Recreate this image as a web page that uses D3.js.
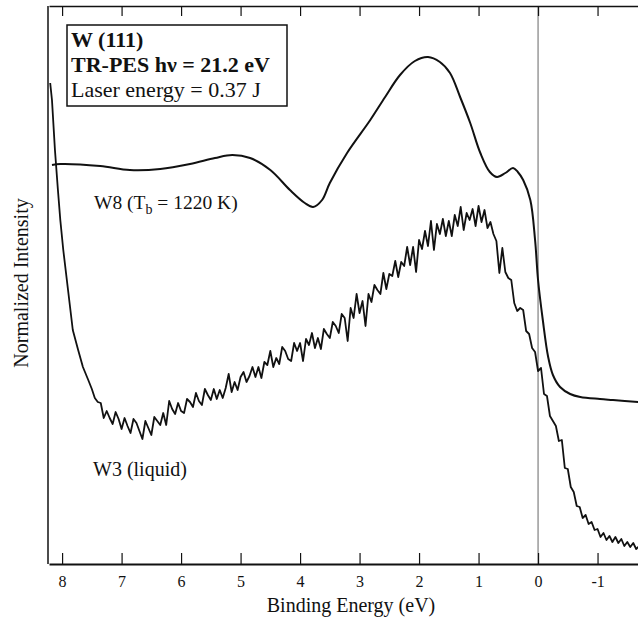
<!DOCTYPE html>
<html>
<head>
<meta charset="utf-8">
<script src="https://cdn.jsdelivr.net/npm/d3@7"></script>
<style>
  body { margin: 0; background: #fff; }
  text { font-family: "Liberation Serif", "Times New Roman", serif; fill: #111; }
</style>
</head>
<body>
<div id="chart"></div>
<script>
// binding energy ticks (eV)
const energyTicks = [8, 7, 6, 5, 4, 3, 2, 1, 0, -1];

// W8 (solid, Tb = 1220 K) - smooth spectrum, [eV, intensity a.u.]
const w8Spectrum = [
  [8.17, 399], [8.03, 400], [7.36, 398], [6.86, 394], [6.35, 395], [5.85, 400],
  [5.43, 406], [5.14, 409], [4.84, 406], [4.50, 394], [4.17, 374], [3.92, 361],
  [3.78, 357], [3.63, 364], [3.50, 381], [3.21, 411], [2.82, 444], [2.57, 467],
  [2.32, 489], [2.07, 503], [1.85, 507], [1.65, 502], [1.48, 491], [1.31, 467],
  [1.14, 441], [0.97, 411], [0.81, 392], [0.69, 387], [0.55, 391], [0.42, 396],
  [0.34, 392], [0.25, 384], [0.13, 364], [0.05, 324], [0.00, 284], [-0.08, 244],
  [-0.17, 207], [-0.25, 189], [-0.37, 177], [-0.54, 170], [-0.71, 167],
  [-1.04, 165], [-1.26, 164], [-1.70, 162]
];

// W3 (liquid) - noisy spectrum, [eV, intensity a.u.]
const w3Spectrum = [
  [8.20, 481], [8.17, 464], [8.12, 414], [8.07, 374], [8.03, 344], [7.98, 314],
  [7.90, 274], [7.82, 234], [7.73, 214], [7.65, 197], [7.56, 184], [7.50, 175],
  [7.45, 166], [7.40, 162], [7.35, 161], [7.30, 146], [7.25, 153], [7.20, 146],
  [7.15, 140], [7.10, 152], [7.05, 145], [7.00, 135], [6.95, 146], [6.90, 138],
  [6.85, 131], [6.80, 145], [6.75, 141], [6.70, 133], [6.65, 125], [6.60, 143],
  [6.55, 136], [6.50, 129], [6.45, 147], [6.40, 143], [6.35, 139], [6.30, 151],
  [6.25, 139], [6.20, 163], [6.15, 155], [6.10, 150], [6.05, 161], [6.00, 153],
  [5.95, 151], [5.90, 165], [5.85, 162], [5.80, 157], [5.75, 171], [5.70, 163],
  [5.65, 159], [5.60, 175], [5.55, 169], [5.50, 164], [5.45, 175], [5.40, 165],
  [5.35, 174], [5.30, 166], [5.25, 176], [5.20, 190], [5.15, 172], [5.10, 182],
  [5.05, 174], [5.00, 187], [4.95, 192], [4.90, 182], [4.85, 188], [4.80, 197],
  [4.75, 187], [4.70, 197], [4.65, 186], [4.60, 202], [4.55, 199], [4.50, 213],
  [4.45, 197], [4.40, 206], [4.35, 200], [4.30, 217], [4.25, 213], [4.20, 205],
  [4.15, 203], [4.10, 221], [4.05, 213], [4.00, 221], [3.95, 203], [3.90, 225],
  [3.85, 219], [3.80, 231], [3.75, 216], [3.70, 226], [3.65, 215], [3.60, 235],
  [3.55, 230], [3.50, 226], [3.45, 242], [3.40, 238], [3.35, 231], [3.30, 250],
  [3.25, 246], [3.20, 223], [3.15, 256], [3.10, 246], [3.05, 270], [3.00, 251],
  [2.95, 263], [2.90, 238], [2.85, 270], [2.80, 262], [2.75, 279], [2.70, 274],
  [2.65, 270], [2.60, 291], [2.55, 275], [2.50, 290], [2.45, 288], [2.40, 303],
  [2.35, 287], [2.30, 302], [2.25, 298], [2.20, 317], [2.15, 299], [2.10, 317],
  [2.05, 292], [2.00, 324], [1.95, 315], [1.90, 333], [1.85, 318], [1.80, 343],
  [1.75, 314], [1.70, 340], [1.65, 330], [1.60, 345], [1.55, 328], [1.50, 343],
  [1.45, 328], [1.40, 349], [1.35, 338], [1.30, 357], [1.25, 334], [1.20, 351],
  [1.15, 344], [1.10, 355], [1.05, 338], [1.00, 358], [0.95, 342], [0.90, 354],
  [0.85, 336], [0.80, 342], [0.75, 330], [0.70, 323], [0.65, 291], [0.60, 316],
  [0.55, 292], [0.50, 286], [0.45, 284], [0.40, 261], [0.35, 253], [0.30, 256],
  [0.25, 254], [0.20, 233], [0.15, 230], [0.10, 216], [0.05, 212], [0.00, 193],
  [-0.05, 196], [-0.10, 170], [-0.15, 168], [-0.20, 148], [-0.25, 143], [-0.30, 138],
  [-0.35, 123], [-0.40, 124], [-0.45, 96], [-0.50, 95], [-0.55, 77], [-0.60, 72],
  [-0.65, 58], [-0.70, 57], [-0.75, 46], [-0.80, 49], [-0.85, 40], [-0.90, 42],
  [-0.95, 34], [-1.00, 35], [-1.05, 27], [-1.10, 31], [-1.15, 24], [-1.20, 28],
  [-1.25, 22], [-1.30, 27], [-1.35, 21], [-1.40, 25], [-1.45, 18], [-1.50, 22],
  [-1.55, 17], [-1.60, 21], [-1.65, 15], [-1.70, 18]
];

const boxLines = ["W (111)", "TR-PES hν = 21.2 eV", "Laser energy = 0.37 J"];

const width = 638, height = 620;
const margin = { top: 6, right: 0, bottom: 56, left: 48 };

const svg = d3.select("#chart")
  .append("svg")
  .attr("width", width)
  .attr("height", height);

const x = d3.scaleLinear()
  .domain([8.22, -1.68])
  .range([margin.left + 1, width]);

const y = d3.scaleLinear()
  .domain([0, 558])
  .range([height - margin.bottom, margin.top]);

svg.append("clipPath")
  .attr("id", "plot-clip")
  .append("rect")
  .attr("x", margin.left)
  .attr("y", margin.top)
  .attr("width", width - margin.left)
  .attr("height", height - margin.bottom - margin.top);

// zero line
svg.append("line")
  .attr("x1", x(0)).attr("x2", x(0))
  .attr("y1", margin.top).attr("y2", height - margin.bottom)
  .attr("stroke", "#666")
  .attr("stroke-width", 1);

// spectra
const line = d3.line()
  .x(d => x(d[0]))
  .y(d => y(d[1]));

const plot = svg.append("g").attr("clip-path", "url(#plot-clip)");

plot.append("path")
  .datum(w8Spectrum)
  .attr("d", line.curve(d3.curveCatmullRom.alpha(0.5)))
  .attr("fill", "none")
  .attr("stroke", "#111")
  .attr("stroke-width", 2);

plot.append("path")
  .datum(w3Spectrum)
  .attr("d", line.curve(d3.curveLinear))
  .attr("fill", "none")
  .attr("stroke", "#111")
  .attr("stroke-width", 1.8)
  .attr("stroke-linejoin", "round");

// axes
const bottomAxis = d3.axisBottom(x)
  .tickValues(energyTicks)
  .tickSizeInner(-11)
  .tickSizeOuter(0)
  .tickPadding(12)
  .tickFormat(d => String(d));

const gx = svg.append("g")
  .attr("transform", `translate(0,${height - margin.bottom})`)
  .call(bottomAxis);
gx.select(".domain").attr("stroke-width", 2.2).attr("stroke", "#111");
gx.selectAll(".tick line").attr("stroke", "#111").attr("stroke-width", 1.2);
gx.selectAll(".tick text")
  .attr("font-family", "Liberation Serif, serif")
  .attr("font-size", 16)
  .attr("fill", "#111");

const topAxis = d3.axisTop(x)
  .tickValues(energyTicks)
  .tickSizeInner(-10)
  .tickSizeOuter(0)
  .tickFormat("");

const gt = svg.append("g")
  .attr("transform", `translate(0,${margin.top})`)
  .call(topAxis);
gt.select(".domain").attr("stroke-width", 1.5).attr("stroke", "#111");
gt.selectAll(".tick line").attr("stroke", "#111").attr("stroke-width", 1.2);

svg.append("line")
  .attr("x1", margin.left).attr("x2", margin.left)
  .attr("y1", margin.top).attr("y2", height - margin.bottom)
  .attr("stroke", "#111")
  .attr("stroke-width", 1.5);

// axis titles
svg.append("text")
  .attr("x", 351)
  .attr("y", 612)
  .attr("text-anchor", "middle")
  .attr("font-size", 20)
  .text("Binding Energy (eV)");

svg.append("text")
  .attr("transform", "translate(28,283) rotate(-90)")
  .attr("text-anchor", "middle")
  .attr("font-size", 20)
  .text("Normalized Intensity");

// info box
svg.append("rect")
  .attr("x", 67).attr("y", 25)
  .attr("width", 220).attr("height", 81)
  .attr("fill", "#fff")
  .attr("stroke", "#111")
  .attr("stroke-width", 1.5);

svg.selectAll(".box-line")
  .data(boxLines)
  .join("text")
  .attr("class", "box-line")
  .attr("x", 71)
  .attr("y", (d, i) => 47 + i * 25)
  .attr("font-size", 22)
  .attr("font-weight", (d, i) => i < 2 ? "bold" : "normal")
  .text(d => d);

// curve labels
const w8Label = svg.append("text")
  .attr("x", 94)
  .attr("y", 209)
  .attr("font-size", 19.5);
w8Label.append("tspan").text("W8 (T");
w8Label.append("tspan").attr("dy", 5).attr("font-size", 14).text("b");
w8Label.append("tspan").attr("dy", -5).text(" = 1220 K)");

svg.append("text")
  .attr("x", 93)
  .attr("y", 476)
  .attr("font-size", 20)
  .text("W3 (liquid)");
</script>
</body>
</html>
